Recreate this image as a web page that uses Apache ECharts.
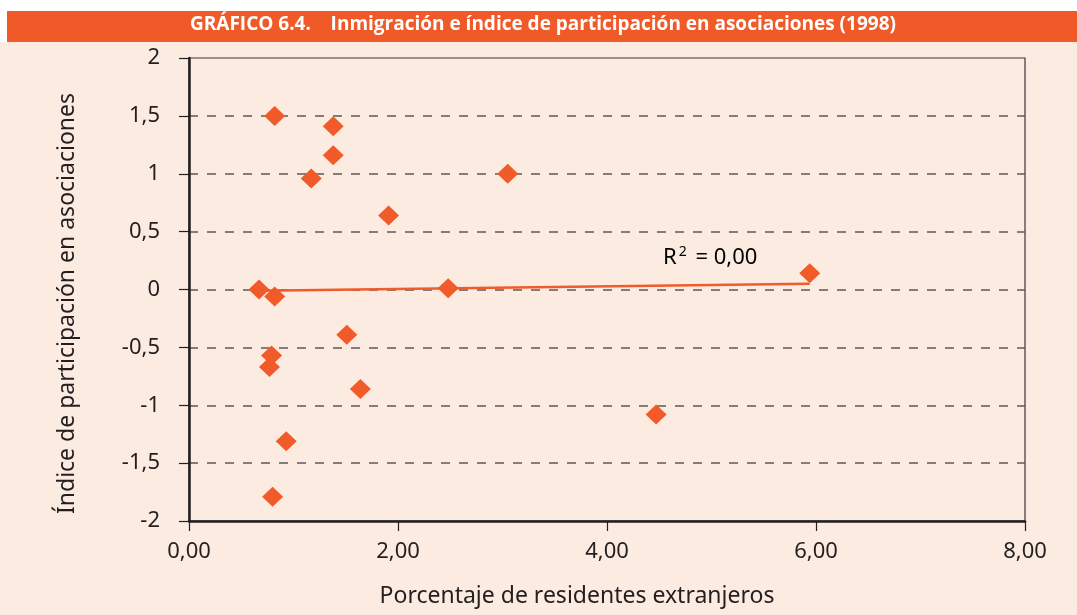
<!DOCTYPE html>
<html>
<head>
<meta charset="utf-8">
<script src="https://cdn.jsdelivr.net/npm/echarts@6/dist/echarts.min.js"></script>
<style>
  html, body { margin: 0; padding: 0; background: #ffffff; }
  #chart { width: 1077px; height: 615px; }
</style>
</head>
<body>
<div id="chart"></div>
<script>
// datos
var extranjeros = [0.82, 1.38, 1.38, 1.17, 3.05, 1.91, 5.94, 0.67, 0.82, 2.48, 1.51, 0.79, 0.77, 1.64, 4.47, 0.93, 0.80];
var participacion = [1.50, 1.41, 1.16, 0.96, 1.00, 0.64, 0.14, 0.00, -0.06, 0.01, -0.39, -0.57, -0.67, -0.86, -1.08, -1.31, -1.79];
// linea de tendencia (extremos)
var tendenciaX = [0.67, 5.94];
var tendenciaY = [-0.01, 0.05];
var xTickLabels = ['0,00', '2,00', '4,00', '6,00', '8,00'];
var yTickLabels = ['-2', '-1,5', '-1', '-0,5', '0', '0,5', '1', '1,5', '2'];

var naranja = '#f15a29';
var texto = '#231f20';
var fuente = '"Noto Sans", "Open Sans", sans-serif';

var puntos = extranjeros.map(function (x, i) { return [x, participacion[i]]; });
var tendencia = tendenciaX.map(function (x, i) { return [x, tendenciaY[i]]; });

var myChart = echarts.init(document.getElementById('chart'));
var option = {
    backgroundColor: '#ffffff',
    animation: false,
    graphic: [
        { type: 'rect', left: 0, top: 42, shape: { width: 1077, height: 573 }, style: { fill: '#fcebe1' }, z: -10 },
        { type: 'rect', left: 7, top: 11, shape: { width: 1070, height: 31 }, style: { fill: '#f05a28' }, z: -10 },
        {
            type: 'text', left: 190, top: 15,
            style: {
                text: 'GRÁFICO 6.4.    Inmigración e índice de participación en asociaciones (1998)',
                fill: '#ffffff', font: 'bold 19px "Open Sans", sans-serif'
            }
        },
        {
            type: 'text', left: 663, top: 245,
            style: {
                text: '{r|R}{s|2}{r| = 0,00}',
                rich: {
                    r: { fontSize: 22, fontFamily: fuente, color: texto, verticalAlign: 'bottom' },
                    s: { fontSize: 14, fontFamily: fuente, color: texto, verticalAlign: 'top', padding: [0, 3, 10, 2] }
                }
            }
        }
    ],
    grid: {
        left: 189, right: 52, top: 58, bottom: 94,
        show: true, borderColor: '#3a3637', borderWidth: 1.2, backgroundColor: 'transparent'
    },
    xAxis: {
        type: 'value', min: 0, max: 8, interval: 2,
        name: 'Porcentaje de residentes extranjeros',
        nameLocation: 'middle', nameGap: 64,
        nameTextStyle: { fontSize: 23, fontFamily: fuente, color: texto, padding: [0, 60, 0, 0] },
        axisLine: { show: true, onZero: false, lineStyle: { color: texto, width: 2.5 } },
        axisTick: { show: true, length: 10, lineStyle: { color: texto, width: 1.2 } },
        axisLabel: {
            fontSize: 22, fontFamily: fuente, color: texto, margin: 20,
            formatter: function (v) { return xTickLabels[Math.round(v / 2)]; }
        },
        splitLine: { show: false }
    },
    yAxis: {
        type: 'value', min: -2, max: 2, interval: 0.5,
        name: 'Índice de participación en asociaciones',
        nameLocation: 'middle', nameGap: 110,
        nameTextStyle: { fontSize: 23, fontFamily: fuente, color: texto, padding: [0, 28, 0, 0] },
        axisLine: { show: true, onZero: false, lineStyle: { color: texto, width: 2.5 } },
        axisTick: { show: true, length: 10, lineStyle: { color: texto, width: 1.2 } },
        axisLabel: {
            fontSize: 22, fontFamily: fuente, color: texto, margin: 29,
            formatter: function (v) { return yTickLabels[Math.round((v + 2) / 0.5)]; }
        },
        splitLine: {
            show: true, showMinLine: false, showMaxLine: false,
            lineStyle: { color: '#5f5a58', width: 1.5, type: [9, 9] }
        }
    },
    series: [
        {
            name: 'tendencia', type: 'line', data: tendencia,
            symbol: 'none', lineStyle: { color: naranja, width: 2.5 }, z: 2
        },
        {
            name: 'municipios', type: 'scatter', data: puntos,
            symbol: 'diamond', symbolSize: [21, 20],
            itemStyle: { color: naranja, opacity: 1 }, z: 3
        }
    ]
};
myChart.setOption(option);
</script>
</body>
</html>
